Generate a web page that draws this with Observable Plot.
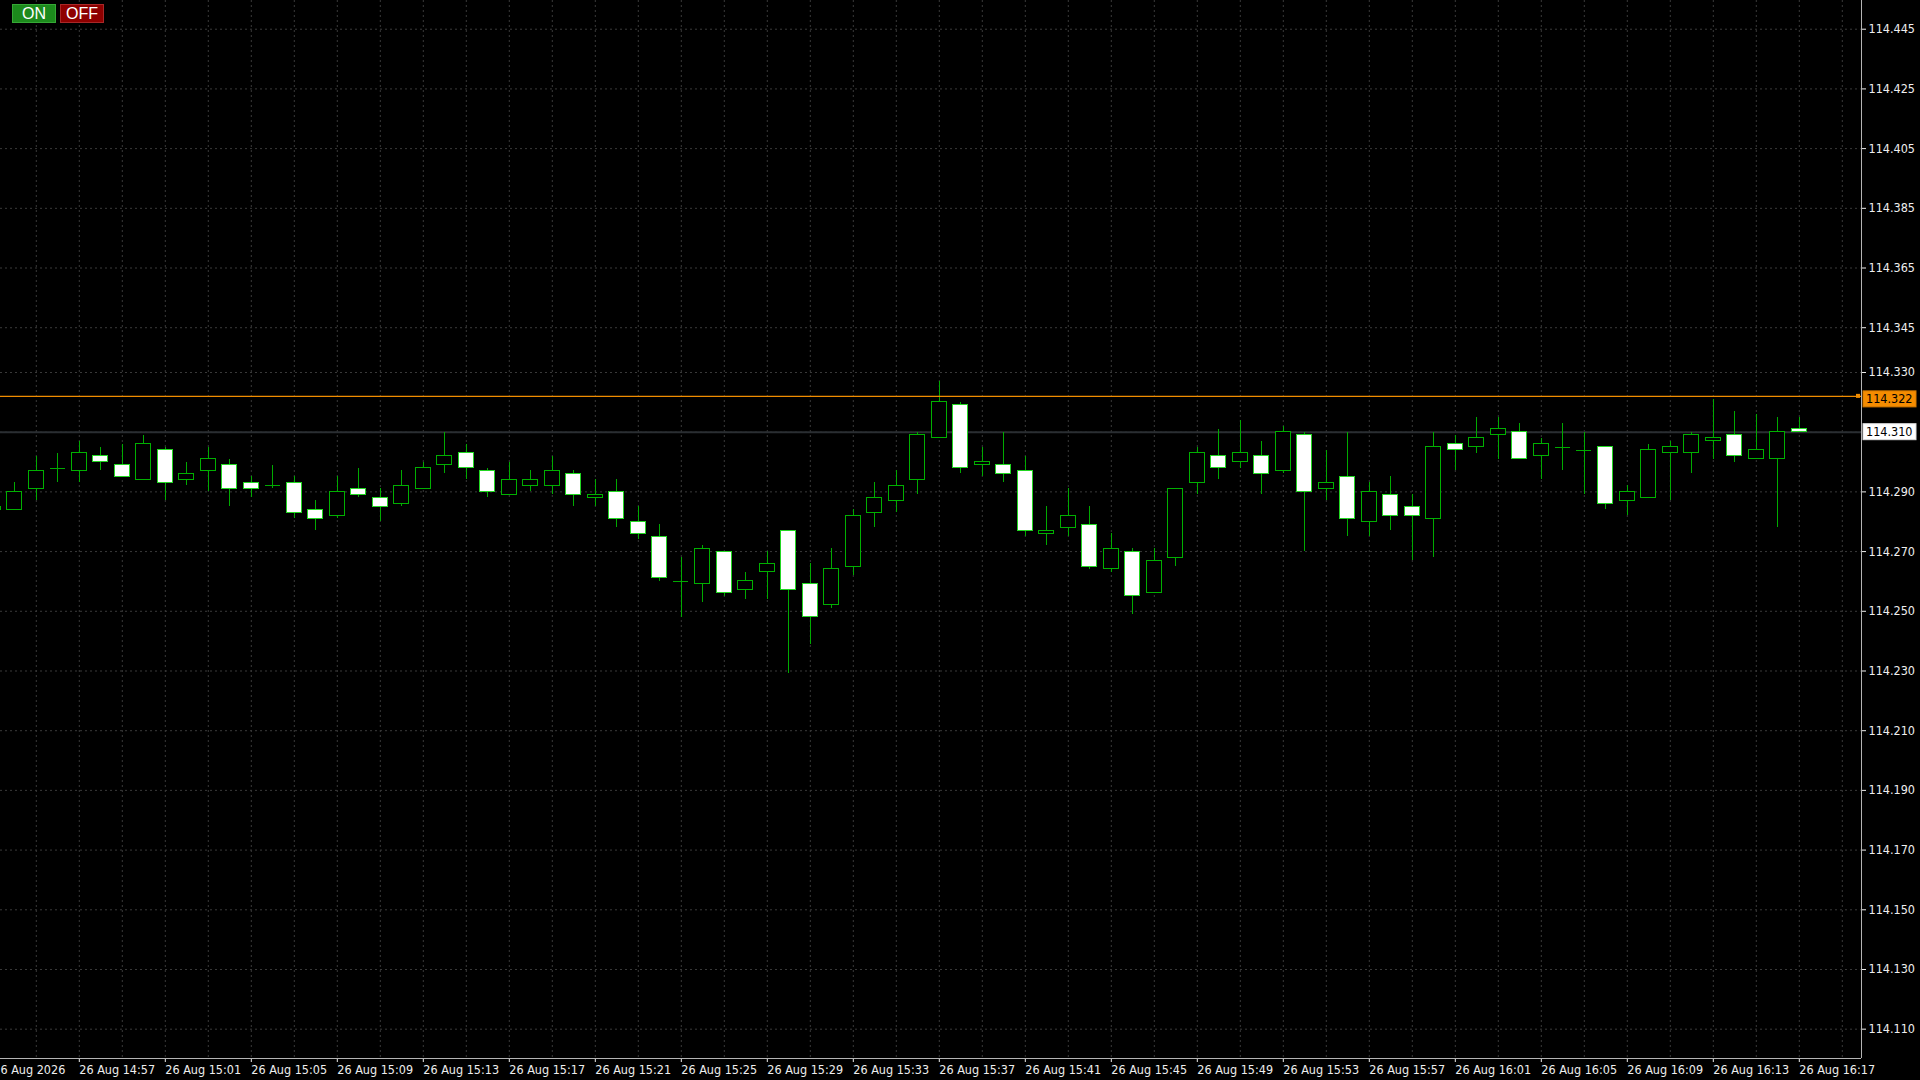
<!DOCTYPE html>
<html><head><meta charset="utf-8">
<script src="https://cdn.jsdelivr.net/npm/d3@7"></script>
<script src="https://cdn.jsdelivr.net/npm/@observablehq/plot@0.6"></script>
<style>
html,body{margin:0;padding:0;background:#000;overflow:hidden;}
#wrap{position:relative;width:1920px;height:1080px;}
.btn{position:absolute;top:4px;height:19px;font:16px "Liberation Sans",Arial,sans-serif;color:#fff;text-align:center;line-height:18px;box-sizing:border-box;}
#on{left:12px;width:44px;background:#1c8a1c;border:1px solid #36a836;}
#off{left:60px;width:44px;background:#8e0000;border:1px solid #a82828;}
</style></head><body>
<div id="wrap"><div id="chart"></div><div class="btn" id="on">ON</div><div class="btn" id="off">OFF</div></div>
<script>
// ---- data (M1 candles starting 14:53) ----
const startHour = 14, startMinute = 53;
const dayLabel = "26 Aug";
const firstLabel = "26 Aug 2026";
const opens  = [114.284,114.284,114.291,114.298,114.297,114.302,114.299,114.294,114.304,114.294,
                114.297,114.299,114.293,114.292,114.293,114.284,114.282,114.291,114.288,114.286,
                114.291,114.299,114.303,114.297,114.289,114.292,114.292,114.296,114.288,114.290,
                114.280,114.275,114.260,114.259,114.270,114.257,114.263,114.277,114.259,114.252,
                114.265,114.283,114.287,114.294,114.308,114.319,114.299,114.299,114.297,114.276,
                114.278,114.279,114.264,114.270,114.256,114.268,114.293,114.302,114.300,114.302,
                114.297,114.309,114.291,114.295,114.280,114.289,114.285,114.281,114.306,114.305,
                114.309,114.310,114.302,114.305,114.304,114.305,114.287,114.288,114.303,114.303,
                114.307,114.309,114.301,114.301,114.311];
const highs  = [114.286,114.293,114.302,114.303,114.307,114.305,114.306,114.309,114.305,114.300,
                114.305,114.301,114.295,114.299,114.295,114.287,114.295,114.298,114.291,114.297,
                114.300,114.310,114.306,114.298,114.300,114.297,114.302,114.297,114.294,114.294,
                114.285,114.279,114.268,114.272,114.270,114.263,114.270,114.277,114.266,114.271,
                114.284,114.293,114.297,114.310,114.327,114.320,114.305,114.310,114.302,114.285,
                114.291,114.285,114.276,114.271,114.271,114.291,114.305,114.311,114.314,114.307,
                114.312,114.310,114.304,114.310,114.293,114.295,114.289,114.310,114.309,114.315,
                114.315,114.313,114.308,114.313,114.310,114.305,114.292,114.306,114.307,114.310,
                114.321,114.317,114.316,114.315,114.315];
const lows   = [114.283,114.284,114.287,114.293,114.293,114.297,114.295,114.294,114.287,114.292,
                114.290,114.285,114.288,114.291,114.281,114.277,114.281,114.288,114.280,114.285,
                114.291,114.296,114.294,114.288,114.289,114.290,114.289,114.285,114.285,114.278,
                114.274,114.260,114.248,114.253,114.255,114.254,114.254,114.229,114.239,114.251,
                114.262,114.278,114.283,114.289,114.308,114.296,114.295,114.293,114.275,114.272,
                114.275,114.264,114.263,114.249,114.256,114.265,114.289,114.294,114.298,114.289,
                114.296,114.270,114.287,114.275,114.275,114.277,114.267,114.268,114.297,114.303,
                114.301,114.301,114.294,114.297,114.289,114.284,114.282,114.288,114.287,114.296,
                114.301,114.300,114.301,114.278,114.310];
const closes = [114.285,114.290,114.297,114.298,114.303,114.300,114.295,114.306,114.293,114.296,
                114.301,114.291,114.291,114.292,114.283,114.281,114.290,114.289,114.285,114.292,
                114.298,114.302,114.298,114.290,114.294,114.294,114.297,114.289,114.289,114.281,
                114.276,114.261,114.260,114.271,114.256,114.260,114.266,114.257,114.248,114.264,
                114.282,114.288,114.292,114.309,114.320,114.298,114.300,114.296,114.277,114.277,
                114.282,114.265,114.271,114.255,114.267,114.291,114.303,114.298,114.303,114.296,
                114.310,114.290,114.293,114.281,114.290,114.282,114.282,114.305,114.304,114.308,
                114.311,114.301,114.306,114.305,114.304,114.286,114.290,114.304,114.305,114.309,
                114.308,114.302,114.304,114.310,114.310];
const priceTicks = [114.445,114.425,114.405,114.385,114.365,114.345,114.330,114.310,114.290,114.270,
                    114.250,114.230,114.210,114.190,114.170,114.150,114.130,114.110];
const hLinePrice = 114.322;
const bidPrice = 114.310;

// ---- derived table ----
const pad = n => String(n).padStart(2, "0");
const timeOf = i => { const m = startHour * 60 + startMinute + i; return pad(Math.floor(m / 60)) + ":" + pad(m % 60); };
const candles = opens.map((o, i) => ({i, time: timeOf(i), open: o, high: highs[i], low: lows[i], close: closes[i]}));
const bodies = candles.filter(d => d.open !== d.close);
const dojis = candles.filter(d => d.open === d.close);
const labelIdx = d3.range(0, candles.length, 4);
const gridIdx = d3.range(0, 88, 2);
const labelOf = i => i === 0 ? firstLabel : dayLabel + " " + timeOf(i);
const axisPriceTicks = priceTicks.filter(t => t !== bidPrice);

const xDomain = [0.335, 86.893];
const yDomain = [114.10018, 114.45462];
const hw = 0.35;
const wick = "#00aa00";
const gridColor = "#3a3a3a";
const font = "'DejaVu Sans Condensed','Liberation Sans',Arial,sans-serif";

const chart = Plot.plot({
  width: 1920, height: 1080,
  marginLeft: 0, marginRight: 59, marginTop: 0, marginBottom: 22,
  style: {background: "#000", color: "#eeeeee", fontFamily: font, fontSize: "12.5px", maxWidth: "none"},
  x: {type: "linear", domain: xDomain},
  y: {type: "linear", domain: yDomain},
  marks: [
    Plot.gridY({ticks: priceTicks, stroke: gridColor, strokeOpacity: 1, strokeDasharray: "2,3"}),
    Plot.gridX({ticks: gridIdx, stroke: gridColor, strokeOpacity: 1, strokeDasharray: "2,3"}),
    Plot.ruleY([bidPrice], {stroke: "#2a2e32", strokeWidth: 2}),
    Plot.ruleX(candles, {x: "i", y1: "low", y2: "high", stroke: wick, strokeWidth: 1, shapeRendering: "crispEdges"}),
    Plot.rect(bodies, {
      x1: d => d.i - hw, x2: d => d.i + hw, y1: "open", y2: "close",
      fill: d => d.close < d.open ? "#ffffff" : "#000000",
      stroke: d => d.close < d.open ? "#22d622" : "#00b000",
      strokeWidth: 1, shapeRendering: "crispEdges"
    }),
    Plot.ruleY(dojis, {x1: d => d.i - hw, x2: d => d.i + hw, y: "open", stroke: wick, strokeWidth: 1, shapeRendering: "crispEdges"}),
    Plot.ruleY([hLinePrice], {stroke: "#f08c00", strokeWidth: 1.3}),
    Plot.axisY({anchor: "right", ticks: axisPriceTicks, tickFormat: d3.format(".3f"), tickSize: 4, tickPadding: 3, label: null, fontSize: 12.5}),
    Plot.axisX({anchor: "bottom", ticks: labelIdx, tickFormat: labelOf, textAnchor: "start", tickSize: 4, tickPadding: 3, label: null, fontSize: 12.5}),
    Plot.ruleX([xDomain[1]], {stroke: "#b4b4b4", strokeWidth: 1}),
    Plot.ruleY([yDomain[0]], {stroke: "#b4b4b4", strokeWidth: 1})
  ]
});
document.getElementById("chart").appendChild(chart);

// price labels on the right axis (horizontal line and bid)
const ys = chart.scale("y"), xs = chart.scale("x");
const axisX = xs.apply(xDomain[1]);
const svg = d3.select(chart);
function priceBox(price, bg, fg, offset) {
  const yy = ys.apply(price) + offset;
  const g = svg.append("g").attr("text-anchor", "start");
  g.append("rect").attr("x", axisX + 2).attr("y", yy - 8).attr("width", 53).attr("height", 16)
    .attr("fill", bg).attr("stroke", d3.color(bg).darker(0.4)).attr("stroke-width", 1);
  g.append("text").attr("x", axisX + 5).attr("y", yy).attr("dy", "0.35em").attr("text-anchor", "start")
    .attr("fill", fg).attr("font-family", font).attr("font-size", 12.5).text(d3.format(".3f")(price));
}
priceBox(hLinePrice, "#f58c00", "#000", 3);
priceBox(bidPrice, "#ffffff", "#000", 0);
svg.append("rect").attr("x", axisX - 5).attr("y", ys.apply(hLinePrice) - 2).attr("width", 4).attr("height", 4)
  .attr("fill", "#f08c00");
</script>
</body></html>
